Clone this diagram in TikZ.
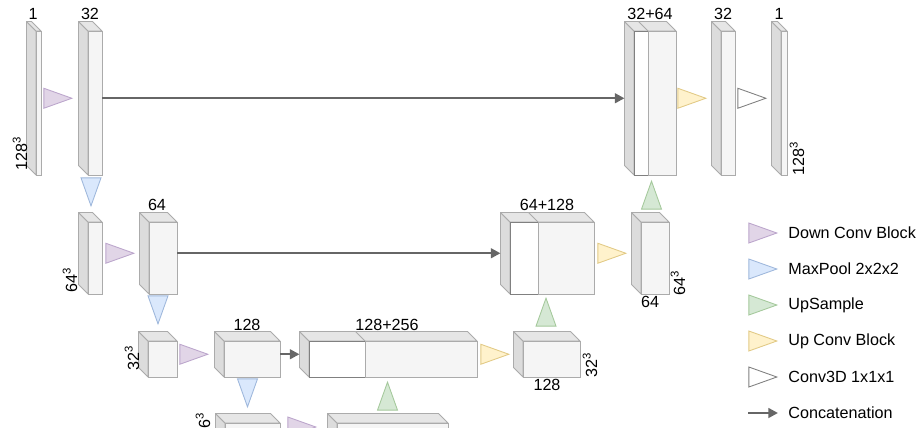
\documentclass[tikz,border=0pt]{standalone}
\usepackage{fontspec}
\setmainfont{Liberation Sans}
\usepackage{tikz}
\usetikzlibrary{arrows.meta, shapes.geometric, fit}

\definecolor{frontgray}{HTML}{F5F5F5}
\definecolor{sidegray}{HTML}{DCDCDC}
\definecolor{topgray}{HTML}{E6E6E6}
\definecolor{edgegray}{HTML}{ABABAB}
\definecolor{catedge}{HTML}{808080}
\definecolor{arrowgray}{HTML}{666666}
\definecolor{purplefill}{HTML}{E1D5E7}
\definecolor{purpleline}{HTML}{BCA6CC}
\definecolor{bluefill}{HTML}{DAE8FC}
\definecolor{blueline}{HTML}{9FB8DC}
\definecolor{greenfill}{HTML}{D5E8D4}
\definecolor{greenline}{HTML}{A5C99C}
\definecolor{yellowfill}{HTML}{FFF2CC}
\definecolor{yellowline}{HTML}{E2CA86}

\def\dep{9.5}

% cube: name, x1, y1, x2, y2 of the front face (pixels, y down)
\newcommand{\cube}[5]{%
  \filldraw[side] (#2,#3) -- ++(-\dep,-\dep) -- (#2-\dep,#5-\dep) -- (#2,#5) -- cycle;
  \filldraw[topf] (#2,#3) -- ++(-\dep,-\dep) -- (#4-\dep,#3-\dep) -- (#4,#3) -- cycle;
  \node[front, fit={(#2,#3) (#4,#5)}] (#1) {};
  \coordinate (#1-l) at (#2-\dep,{(#3+#5-\dep)/2});
  \coordinate (#1-r) at (#4,{(#3+#5-\dep)/2});
}
% concatenated cube: name, x1, y1, split x, x2, y2
\newcommand{\catcube}[6]{%
  \filldraw[side] (#2,#3) -- ++(-\dep,-\dep) -- (#2-\dep,#6-\dep) -- (#2,#6) -- cycle;
  \filldraw[topf] (#2,#3) -- ++(-\dep,-\dep) -- (#5-\dep,#3-\dep) -- (#5,#3) -- cycle;
  \draw[side] (#4,#3) -- ++(-\dep,-\dep);
  \node[front, fill=white, draw=catedge, fit={(#2,#3) (#4,#6)}] (#1a) {};
  \node[front, fit={(#4,#3) (#5,#6)}] (#1b) {};
  \coordinate (#1-l) at (#2-\dep,{(#3+#6-\dep)/2});
  \coordinate (#1-r) at (#5,{(#3+#6-\dep)/2});
}

\begin{document}
\begin{tikzpicture}[
    x=0.02cm, y=-0.02cm,
    side/.style={fill=sidegray, draw=edgegray, line width=0.5pt, line join=round},
    topf/.style={fill=topgray, draw=edgegray, line width=0.5pt, line join=round},
    front/.style={rectangle, fill=frontgray, draw=edgegray, line width=0.5pt, inner sep=0pt},
    op/.style={isosceles triangle, isosceles triangle stretches, inner sep=0pt,
               minimum width=0.40cm, minimum height=0.56cm, line width=0.5pt, anchor=apex},
    downconv/.style={op, fill=purplefill, draw=purpleline},
    pool/.style={op, fill=bluefill, draw=blueline, shape border rotate=-90},
    upsample/.style={op, fill=greenfill, draw=greenline, shape border rotate=90},
    upconv/.style={op, fill=yellowfill, draw=yellowline},
    conv/.style={op, fill=white, draw=gray},
    concat/.style={draw=arrowgray, line width=1.4pt, -{Triangle[length=5.5pt, width=5.5pt]}},
    lbl/.style={font=\fontsize{9.2}{11}\selectfont, inner sep=0pt},
]
    \clip (0,0) rectangle (916,427);

    % Level 1
    \cube{in1}{36}{31}{41}{175}
    \cube{d32}{88}{31}{102}{175}
    \catcube{cat1}{634}{31}{648}{676}{175}
    \cube{u32}{721}{31}{735}{175}
    \cube{out1}{781}{31}{787}{175}

    \node[lbl] (t-in1) at (33,14) {1};
    \node[lbl] (t-d32) at (90,14) {32};
    \node[lbl] (t-cat1) at (650,14) {32+64};
    \node[lbl] (t-u32) at (723,14) {32};
    \node[lbl] (t-out1) at (779,14) {1};
    \node[lbl, rotate=90] (s-in1) at (20,153) {128\textsuperscript{3}};
    \node[lbl, rotate=90] (s-out1) at (797,158) {128\textsuperscript{3}};

    \node[downconv] (dc1) at (73,98.25) {};
    \node[upconv] (uc1) at (707,98.25) {};
    \node[conv] (cv1) at (767,98.25) {};
    \draw[concat] (d32-r) -- (cat1-l);

    % Level 2
    \cube{d64a}{88}{222}{102}{294}
    \cube{d64b}{149}{222}{177}{294}
    \catcube{cat2}{510}{222}{538}{594}{294}
    \cube{u64}{641}{222}{669}{294}

    \node[lbl] (t-d64b) at (157,205) {64};
    \node[lbl] (t-cat2) at (547,205) {64+128};
    \node[lbl] (t-u64) at (650,302) {64};
    \node[lbl, rotate=90] (s-d64a) at (70,280) {64\textsuperscript{3}};
    \node[lbl, rotate=90] (s-u64) at (678,283) {64\textsuperscript{3}};

    \node[pool] (mp1) at (91,207) {};
    \node[upsample] (us1) at (651.5,180) {};
    \node[downconv] (dc2) at (135,253.25) {};
    \node[upconv] (uc2) at (627,253.25) {};
    \draw[concat] (d64b-r) -- (cat2-l);

    % Level 3
    \cube{d32a}{148}{341}{177}{377}
    \cube{d128}{224}{341}{280}{377}
    \catcube{cat3}{309}{341}{365}{477}{377}
    \cube{u128}{523}{341}{580}{377}

    \node[lbl] (t-d128) at (247,325) {128};
    \node[lbl] (t-cat3) at (387,325) {128+256};
    \node[lbl] (t-u128) at (547,385) {128};
    \node[lbl, rotate=90] (s-d32a) at (132,358) {32\textsuperscript{3}};
    \node[lbl, rotate=90] (s-u128) at (590,365) {32\textsuperscript{3}};

    \node[pool] (mp2) at (158,325) {};
    \node[upsample] (us2) at (546,297) {};
    \node[downconv] (dc3) at (209,354.25) {};
    \node[upconv] (uc3) at (510,354.25) {};
    \draw[concat] (d128-r) -- (cat3-l);

    % Level 4 (cut by the frame)
    \cube{d16a}{225}{423}{280}{480}
    \cube{d16b}{337}{423}{448}{480}
    \node[lbl, rotate=90] (s-d16a) at (203,420) {6\textsuperscript{3}};
    \node[pool] (mp3) at (247.5,408) {};
    \node[upsample] (us3) at (387.5,381) {};
    \node[downconv] (dc4) at (317,427) {};

    % Legend
    \node[downconv] (k1) at (778,233) {};
    \node[pool, shape border rotate=0] (k2) at (778,269) {};
    \node[upsample, shape border rotate=0] (k3) at (778,305) {};
    \node[upconv] (k4) at (778,341) {};
    \node[conv] (k5) at (778,377) {};
    \coordinate (k6a) at (748,413);
    \coordinate (k6b) at (778,413);
    \draw[concat] (k6a) -- (k6b);

    \node[lbl, anchor=west] (n1) at (788,233) {Down Conv Block};
    \node[lbl, anchor=west] (n2) at (788,269) {MaxPool 2x2x2};
    \node[lbl, anchor=west] (n3) at (788,305) {UpSample};
    \node[lbl, anchor=west] (n4) at (788,341) {Up Conv Block};
    \node[lbl, anchor=west] (n5) at (788,377) {Conv3D 1x1x1};
    \node[lbl, anchor=west] (n6) at (788,413) {Concatenation};
\end{tikzpicture}
\end{document}
